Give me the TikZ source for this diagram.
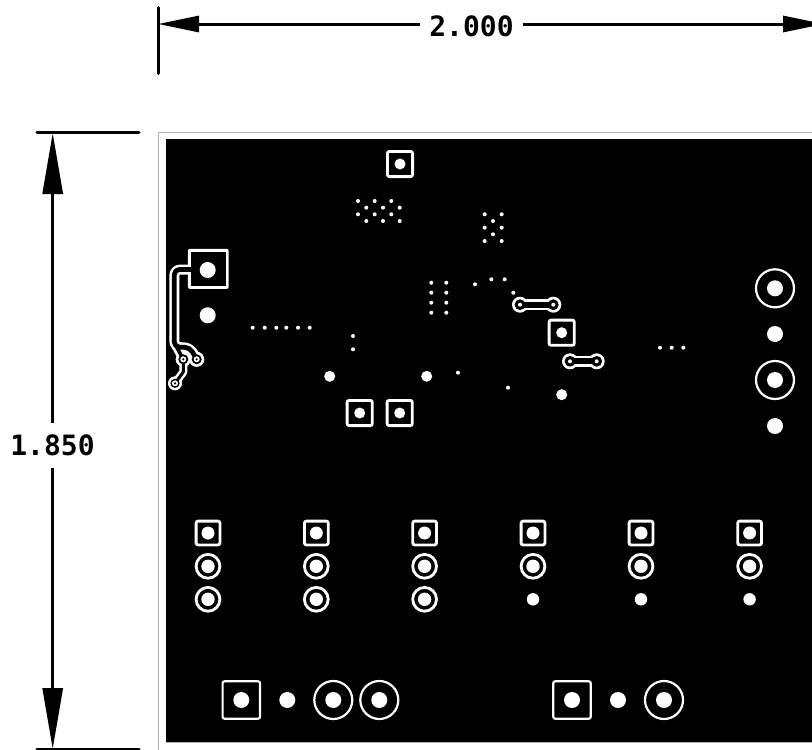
\documentclass[tikz,border=0pt]{standalone}
\usepackage{fontspec}
\setmonofont{DejaVu Sans Mono}
\usetikzlibrary{arrows.meta}
\tikzset{
  dimline/.style={line width=3pt,black,line cap=round},
  dimtext/.style={font=\ttfamily\bfseries\fontsize{28}{30}\selectfont,text=black,inner xsep=9pt,inner ysep=12pt},
  whitefill/.style={fill=white,draw=none},
  blackfill/.style={fill=black,draw=none},
  smalldot/.style={fill=white,draw=none},
  ringline/.style={draw=white,fill=black},
  padline/.style={draw=white,fill=black,rounded corners=2pt},
}
% hole, square pad, ring pad
\newcommand{\holedot}[3]{\fill[whitefill] (#1,#2) circle[radius=#3];}
\newcommand{\sqpad}[5]{% x y halfwidth holeradius stroke
  \path[padline,line width=#5pt] ({#1-#3},{#2-#3}) rectangle ({#1+#3},{#2+#3});
  \holedot{#1}{#2}{#4}}
\newcommand{\ringpad}[5]{% x y radius holeradius stroke
  \path[ringline,line width=#5pt] (#1,#2) circle[radius=#3];
  \holedot{#1}{#2}{#4}}
\newcommand{\vdot}[2]{\fill[smalldot] (#1,#2) circle[radius=2];}
\newcommand{\dogbone}[3]{% x1 x2 y
  \fill[whitefill] (#1,#3) circle[radius=8] (#2,#3) circle[radius=8];
  \draw[white,line width=10.7pt] (#1,#3) -- (#2,#3);
  \fill[blackfill] (#1,#3) circle[radius=5.4] (#2,#3) circle[radius=5.4];
  \draw[black,line width=6pt] (#1,#3) -- (#2,#3);
  \vdot{#1}{#3}\vdot{#2}{#3}}
\begin{document}
\begin{tikzpicture}[x=1pt,y=-1pt]
\clip (0,0) rectangle (812,750);
\fill[white] (0,0) rectangle (812,750);
% board outline and copper
\draw[gray!60,line width=1pt] (158.5,750) -- (158.5,132.7) -- (812,132.7);
\fill[black] (166,139.4) rectangle (830,741.5);
\draw[gray!60,line width=0.6pt] (166,741.8) -- (812,741.8);
% dimensions
\coordinate (topL) at (158,24);
\coordinate (topR) at (824,24);
\coordinate (leftT) at (52.7,133);
\coordinate (leftB) at (52.7,749);
\node[dimtext] (widthlabel) at (471.5,26) {2.000};
\node[dimtext] (heightlabel) at (52.5,445.5) {1.850};
\draw[dimline] (158,7.5) -- (158,73.5);
\draw[dimline] (37,132.7) -- (139,132.7);
\draw[dimline] (37,749) -- (139,749);
\draw[dimline,line cap=butt,{Triangle[length=41pt,width=16pt]}-] (topL) -- (widthlabel.west |- topL);
\draw[dimline,line cap=butt,{Triangle[length=41pt,width=16pt]}-] (topR) -- (widthlabel.east |- topR);
\draw[dimline,line cap=butt,{Triangle[length=61pt,width=20pt]}-] (leftT) -- (leftT |- heightlabel.north);
\draw[dimline,line cap=butt,{Triangle[length=61pt,width=20pt]}-] (leftB) -- (leftB |- heightlabel.south);
% single pads
\sqpad{400}{164}{12.6}{5.5}{2.8}
\sqpad{561.7}{332.7}{12.6}{5.5}{2.8}
\sqpad{359.7}{413}{12.6}{5.5}{2.8}
\sqpad{399.7}{413}{12.6}{5.5}{2.8}
\foreach \px/\py in {329.7/376.3,426.7/376.3,561.7/394.7}{\holedot{\px}{\py}{5.5}}
% small via fields
\foreach \py in {201,214.3}{\foreach \px in {358,374.7,391.3}{\vdot{\px}{\py}}}
\foreach \py in {207.7,221}{\foreach \px in {366.3,383,399.7}{\vdot{\px}{\py}}}
\foreach \py in {214.3,227.7,241}{\foreach \px in {484.7,501.7}{\vdot{\px}{\py}}}
\foreach \py in {221,234.3}{\vdot{493}{\py}}
\foreach \py in {282.7,292.7,302.7,312.7}{\foreach \px in {431.3,446.3}{\vdot{\px}{\py}}}
\foreach \px/\py in {475/284.3,491.3/279.3,504.7/279.3,513.3/292.7,458/372.7,508/387.7,
  252.7/327.7,264.7/327.7,276.3/327.7,286.3/327.7,298/327.7,309.7/327.7,
  353/336,353/349.3,660/347.7,671.7/347.7,683.3/347.7}{\vdot{\px}{\py}}
% dog bones
\dogbone{520}{553.3}{304.7}
\dogbone{570}{596.7}{361.3}
% left pad and trace: white outline first, black interior on top
\fill[whitefill,rounded corners=2pt] (187.9,248.9) rectangle (228.7,288.9);
\fill[whitefill] (183.3,359.3) circle[radius=7.6] (196.7,359.3) circle[radius=7.6] (175,383.3) circle[radius=7];
\draw[white,line width=10pt,line join=round,rounded corners=6pt]
  (195,269.5) -- (174.3,269.5) -- (174.3,347) -- (190,347.5) -- (196.7,359.3);
\draw[white,line width=9pt,line join=round] (175,344) -- (183.3,359.3);
\draw[white,line width=8pt,line join=round] (183.3,359.3) -- (183.3,372) -- (175,383.3);
\fill[blackfill] (190.6,251.6) rectangle (226,286.2);
\fill[blackfill] (183.3,359.3) circle[radius=5] (196.7,359.3) circle[radius=5] (175,383.3) circle[radius=4.6];
\draw[black,line width=4.8pt,line join=round,rounded corners=5pt]
  (195,269.5) -- (174.3,269.5) -- (174.3,347) -- (190,347.5) -- (196.7,359.3);
\draw[black,line width=3.6pt,line join=round] (175,344) -- (183.3,359.3);
\draw[black,line width=3pt,line join=round] (183.3,359.3) -- (183.3,372) -- (175,383.3);
\foreach \px/\py in {183.3/359.3,196.7/359.3,175/383.3}{
  \fill[whitefill] (\px,\py) circle[radius=3];
  \fill[blackfill] (\px,\py) circle[radius=1.2];
}
\holedot{207.7}{270}{8}
\holedot{207.7}{315.3}{8}
% right connector
\ringpad{775}{288.3}{19}{8}{2.2}
\holedot{775}{334}{8}
\ringpad{775}{380}{19}{8}{2.2}
\holedot{775}{426}{8}
% headers
\foreach \cx in {208,316.3,424.6}{
  \sqpad{\cx}{533}{11.9}{6.5}{2.8}
  \ringpad{\cx}{566.3}{11.9}{6.7}{2.8}
  \ringpad{\cx}{599.3}{11.9}{6.7}{2.8}
}
\foreach \cx in {533,641,749.6}{
  \sqpad{\cx}{533}{11.9}{6.5}{2.8}
  \ringpad{\cx}{566.3}{11.9}{6.7}{2.8}
  \holedot{\cx}{599.3}{6.2}
}
% bottom connectors
\sqpad{241.3}{700}{18.7}{8}{2.2}
\holedot{287.3}{700}{8}
\ringpad{333.3}{700}{19}{8}{2.2}
\ringpad{379.3}{700}{19}{8}{2.2}
\sqpad{572}{700}{18.7}{8}{2.2}
\holedot{618}{700}{8}
\ringpad{664}{700}{19}{8}{2.2}
\end{tikzpicture}
\end{document}
